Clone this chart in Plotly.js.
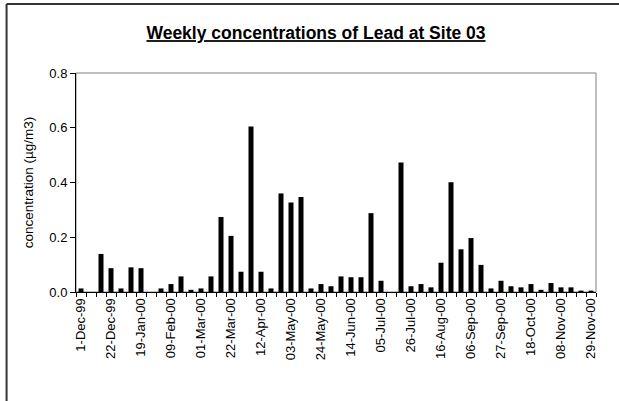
<!DOCTYPE html>
<html>
<head>
<meta charset="utf-8">
<script src="https://cdn.plot.ly/plotly-3.0.1.min.js"></script>
<style>
  html, body { margin: 0; padding: 0; background: #ffffff; }
  #chart { width: 619px; height: 401px; }
</style>
</head>
<body>
<div id="chart"></div>
<script>
// Week start dates (categories)
const weeks = [
  "1-Dec-99", "08-Dec-99", "15-Dec-99", "22-Dec-99", "29-Dec-99", "12-Jan-00",
  "19-Jan-00", "26-Jan-00", "02-Feb-00", "09-Feb-00", "16-Feb-00", "23-Feb-00",
  "01-Mar-00", "08-Mar-00", "15-Mar-00", "22-Mar-00", "29-Mar-00", "05-Apr-00",
  "12-Apr-00", "19-Apr-00", "26-Apr-00", "03-May-00", "10-May-00", "17-May-00",
  "24-May-00", "31-May-00", "07-Jun-00", "14-Jun-00", "21-Jun-00", "28-Jun-00",
  "05-Jul-00", "12-Jul-00", "19-Jul-00", "26-Jul-00", "02-Aug-00", "09-Aug-00",
  "16-Aug-00", "23-Aug-00", "30-Aug-00", "06-Sep-00", "13-Sep-00", "20-Sep-00",
  "27-Sep-00", "04-Oct-00", "11-Oct-00", "18-Oct-00", "25-Oct-00", "01-Nov-00",
  "08-Nov-00", "15-Nov-00", "22-Nov-00", "29-Nov-00"
];

// Lead concentration (µg/m3)
const lead = [
  0.013, 0, 0.139, 0.087, 0.013, 0.090,
  0.087, 0, 0.013, 0.029, 0.057, 0.008,
  0.013, 0.057, 0.274, 0.205, 0.074, 0.605,
  0.074, 0.013, 0.360, 0.327, 0.347, 0.013,
  0.029, 0.021, 0.057, 0.054, 0.054, 0.288,
  0.041, 0, 0.473, 0.021, 0.029, 0.017,
  0.107, 0.401, 0.156, 0.197, 0.099, 0.013,
  0.041, 0.021, 0.017, 0.029, 0.008, 0.033,
  0.017, 0.017, 0.005, 0.005
];

// Labelled ticks (every third week)
const tickLabels = weeks.map((w, i) => (i % 3 === 0 ? w : ""));

const L = 75.5, R = 23, T = 73, B = 109;
const W = 619, H = 401;
const pw = W - L - R, ph = H - T - B;
const FONT = "Liberation Sans, Arial, sans-serif";

const trace = {
  type: "bar",
  x: weeks,
  y: lead,
  marker: { color: "#000000", line: { width: 0 } },
  hoverinfo: "x+y"
};

const topY = (H - B - 4) / ph;   // outer frame top at pixel y=4
const leftX = (6 - L) / pw;      // outer frame left at pixel x=6

const layout = {
  width: W,
  height: H,
  margin: { l: L, r: R, t: T, b: B, pad: 0 },
  paper_bgcolor: "#ffffff",
  plot_bgcolor: "#ffffff",
  bargap: 0.5,
  showlegend: false,
  font: { family: FONT, color: "#000000", size: 13 },
  title: {
    text: "<b><u>Weekly concentrations of Lead at Site 03</u></b>",
    font: { family: FONT, size: 17.5, color: "#000000" },
    x: 316 / W,
    xanchor: "center",
    y: 1 - 33 / H,
    yanchor: "middle",
    xref: "container",
    yref: "container"
  },
  xaxis: {
    type: "category",
    tickmode: "array",
    tickvals: weeks,
    ticktext: tickLabels,
    tickson: "boundaries",
    tickangle: -90,
    ticks: "outside",
    ticklen: 4,
    tickwidth: 1,
    tickcolor: "#000000",
    showline: true,
    linecolor: "#000000",
    linewidth: 1,
    showgrid: false,
    zeroline: false,
    tickfont: { size: 13, family: FONT },
    range: [-0.5, weeks.length - 0.5],
    fixedrange: true
  },
  yaxis: {
    range: [0, 0.8],
    dtick: 0.2,
    tick0: 0,
    tickformat: ".1f",
    ticks: "outside",
    ticklen: 5,
    tickwidth: 1,
    tickcolor: "#000000",
    showline: true,
    linecolor: "#000000",
    linewidth: 1,
    showgrid: false,
    zeroline: false,
    tickfont: { size: 13, family: FONT },
    title: {
      text: "concentration (µg/m3)",
      font: { size: 13.5, family: FONT },
      standoff: 12
    },
    fixedrange: true
  },
  shapes: [
    {
      type: "rect", xref: "paper", yref: "paper", layer: "below",
      x0: 0, x1: 1, y0: 0, y1: 1,
      line: { color: "#808080", width: 1 }
    },
    {
      type: "line", xref: "paper", yref: "paper",
      x0: leftX, x1: leftX, y0: topY, y1: -(B + 10) / ph,
      line: { color: "#333333", width: 2 }
    },
    {
      type: "line", xref: "paper", yref: "paper",
      x0: leftX, x1: (W + 10 - L) / pw, y0: topY, y1: topY,
      line: { color: "#333333", width: 2 }
    }
  ]
};

Plotly.newPlot("chart", [trace], layout, { displayModeBar: false, staticPlot: true });
</script>
</body>
</html>
